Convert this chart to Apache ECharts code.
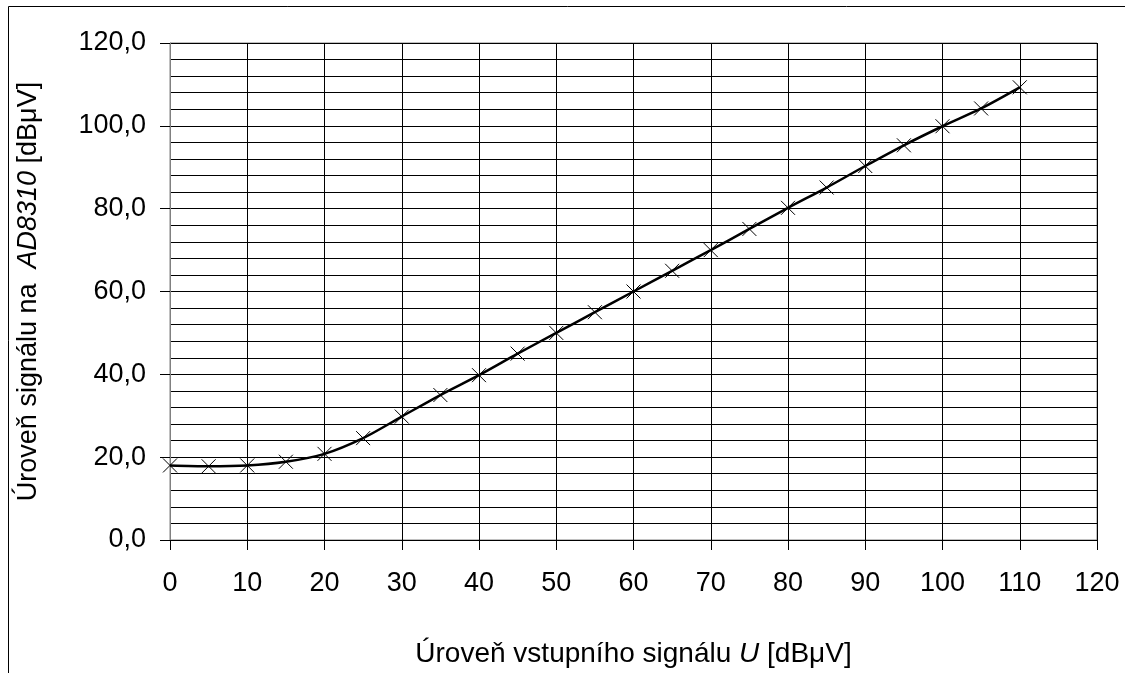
<!DOCTYPE html>
<html>
<head>
<meta charset="utf-8">
<script src="https://cdn.jsdelivr.net/npm/echarts@6/dist/echarts.min.js"></script>
<style>
  html, body { margin: 0; padding: 0; background: #fff; }
  #chart { width: 1125px; height: 673px; }
</style>
</head>
<body>
<div id="chart"></div>
<script>
// vstupní úroveň [dBµV]
const inputLevel = [0, 5, 10, 15, 20, 25, 30, 35, 40, 45, 50, 55, 60, 65, 70, 75, 80, 85, 90, 95, 100, 105, 110]
// úroveň na AD8310 [dBµV]
const outputLevel = [18.0, 17.8, 18.0, 18.9, 20.8, 24.6, 29.8, 35.0, 39.8, 45.0, 50.0, 55.0, 60.0, 65.0, 70.0, 75.1, 80.2, 85.1, 90.3, 95.3, 99.9, 104.2, 109.3]

const font = 'Liberation Sans, Arial, sans-serif'
const data = inputLevel.map((x, i) => [x, outputLevel[i]])

const chart = echarts.init(document.getElementById('chart'))
chart.setOption({
  animation: false,
  backgroundColor: '#fff',
  textStyle: { fontFamily: font },
  graphic: [{
    type: 'rect',
    shape: { x: 8.5, y: 6.5, width: 1300, height: 800 },
    style: { fill: 'none', stroke: '#000', lineWidth: 1 },
    silent: true,
  }],
  grid: {
    left: 170,
    right: 28,
    top: 43,
    bottom: 130,
    show: true,
    borderColor: '#808080',
    borderWidth: 1,
  },
  xAxis: {
    type: 'value',
    min: 0,
    max: 120,
    interval: 10,
    name: '{n|Úroveň vstupního signálu }{i|U}{n| [dBμV]}',
    nameLocation: 'middle',
    nameGap: 100,
    nameTextStyle: {
      rich: {
        n: { fontSize: 28, color: '#000', fontFamily: font },
        i: { fontSize: 28, color: '#000', fontFamily: font, fontStyle: 'italic' },
      },
    },
    axisLine: { lineStyle: { color: '#000', width: 1 } },
    axisTick: { show: true, inside: false, length: 10, lineStyle: { color: '#000' } },
    axisLabel: { fontSize: 27, color: '#000', margin: 30 },
    splitLine: { show: true, lineStyle: { color: '#000', width: 1 } },
  },
  yAxis: {
    type: 'value',
    min: 0,
    max: 120,
    interval: 20,
    name: '{n|Úroveň signálu na  }{i|AD8310}{n| [dBμV]}',
    nameLocation: 'middle',
    nameGap: 128,
    nameTextStyle: {
      rich: {
        n: { fontSize: 27, color: '#000', fontFamily: font },
        i: { fontSize: 27, color: '#000', fontFamily: font, fontStyle: 'italic' },
      },
    },
    axisLine: { show: true, lineStyle: { color: '#808080', width: 1 } },
    axisTick: { show: true, inside: false, length: 10, lineStyle: { color: '#000' } },
    axisLabel: {
      fontSize: 27,
      color: '#000',
      margin: 24,
      formatter: (v) => v.toFixed(1).replace('.', ','),
    },
    splitLine: { show: true, lineStyle: { color: '#000', width: 1 } },
    minorTick: { show: false, splitNumber: 5 },
    minorSplitLine: { show: true, lineStyle: { color: '#000', width: 1 } },
  },
  series: [{
    type: 'line',
    data,
    smooth: 0.3,
    showSymbol: true,
    symbol: 'path://M0,0L10,10M10,0L0,10',
    symbolSize: 14,
    itemStyle: { color: 'none', borderColor: '#000', borderWidth: 1 },
    lineStyle: { color: '#000', width: 2.5 },
    z: 5,
  }],
})
</script>
</body>
</html>
